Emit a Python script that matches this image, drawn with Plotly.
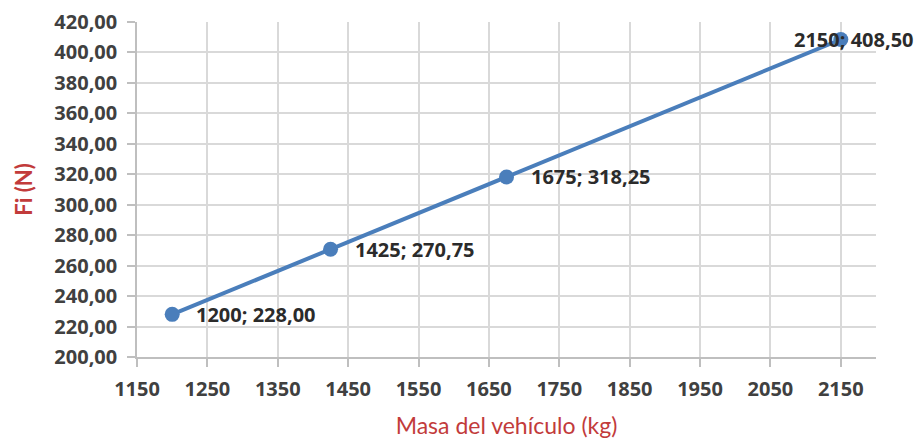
import plotly.graph_objects as go

# Masa del vehículo (kg) vs Fi (N)
masa = [1200, 1425, 1675, 2150]
fuerza = [228.00, 270.75, 318.25, 408.50]

x_ticks = [1150, 1250, 1350, 1450, 1550, 1650, 1750, 1850, 1950, 2050, 2150]
y_ticks = [200, 220, 240, 260, 280, 300, 320, 340, 360, 380, 400, 420]

azul = "#4a7ebb"
rojo = "#c23b3b"
gris_txt = "#404040"
negrita = "Open Sans"


def etiqueta(x, y):
    return f"{x}; {y:.2f}".replace(".", ",")


fig = go.Figure()

fig.add_trace(go.Scatter(
    x=masa,
    y=fuerza,
    mode="lines+markers",
    line=dict(color=azul, width=4),
    marker=dict(color=azul, size=15),
    showlegend=False,
    cliponaxis=False,
))

# data labels to the right of each point, last one pulled back inside
for i, (x, y) in enumerate(zip(masa, fuerza)):
    ultimo = i == len(masa) - 1
    fig.add_annotation(
        x=x, y=y,
        text=etiqueta(x, y),
        showarrow=False,
        xanchor="left",
        yanchor="middle",
        xshift=-49 if ultimo else 22,
        font=dict(family=negrita, size=20, color="#2b2b2b", weight="bold"),
    )

eje = dict(
    showgrid=True,
    gridcolor="#d9d9d9",
    gridwidth=1.5,
    showline=True,
    linecolor="#bfbfbf",
    linewidth=1.5,
    ticks="outside",
    ticklen=8,
    tickcolor="#bfbfbf",
    tickwidth=1.5,
    zeroline=False,
    automargin=False,
    ticklabeloverflow="allow",
)

# page body adds 8px, margins compensate for it
fig.update_layout(
    width=923,
    height=442,
    margin=dict(l=129, r=55, t=14, b=93),
    plot_bgcolor="white",
    paper_bgcolor="white",
    separators=",.",
    font=dict(family=negrita, color=gris_txt),
    xaxis=dict(
        eje,
        range=[1150, 2200],
        tickvals=x_ticks,
        tickformat="d",
        ticklabelstandoff=5,
        tickfont=dict(family=negrita, size=20, color=gris_txt, weight="bold"),
        title=dict(text="Masa del vehículo (kg)",
                   font=dict(family="Lato", size=23, color=rojo),
                   standoff=17),
    ),
    yaxis=dict(
        eje,
        range=[200, 420],
        tickvals=y_ticks,
        tickformat=".2f",
        ticklabelstandoff=6,
        tickfont=dict(family=negrita, size=20, color=gris_txt, weight="bold"),
        title=dict(text="Fi (N)",
                   font=dict(family="Lato", size=22, color=rojo, weight="bold"),
                   standoff=16),
    ),
)

fig.write_html("out.html")
